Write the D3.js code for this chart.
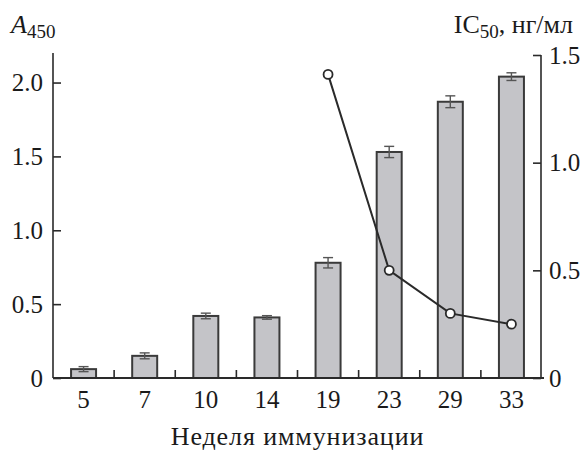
<!DOCTYPE html>
<html>
<head>
<meta charset="utf-8">
<script src="https://cdn.jsdelivr.net/npm/d3@7"></script>
<style>
  body { margin: 0; background: #fff; }
  svg text { font-family: "Liberation Serif", "Times New Roman", Times, serif; fill: #1a1a1a; }
  .axis path, .axis line { stroke: #2a2a2a; stroke-width: 1.6; }
</style>
</head>
<body>
<svg width="585" height="450"></svg>
<script>
// weeks of immunisation, A450 titre with error, IC50 (ng/ml)
var weeks = ["5", "7", "10", "14", "19", "23", "29", "33"];
var a450 = [0.06, 0.15, 0.42, 0.41, 0.78, 1.53, 1.87, 2.04];
var a450Err = [0.017, 0.02, 0.019, 0.012, 0.035, 0.038, 0.04, 0.026];
var icWeeks = ["19", "23", "29", "33"];
var ic50 = [1.41, 0.5, 0.3, 0.25];
var leftTicks = [0, 0.5, 1.0, 1.5, 2.0];
var rightTicks = [0, 0.5, 1.0, 1.5];

var svg = d3.select("svg"),
    margin = {top: 53, right: 43, bottom: 72, left: 53},
    width = 585 - margin.left - margin.right,
    height = 450 - margin.top - margin.bottom;

var g = svg.append("g")
    .attr("transform", "translate(" + margin.left + "," + margin.top + ")");

var x = d3.scaleBand().domain(weeks).range([0, width]).padding(0);
var y = d3.scaleLinear().domain([0, 2.2]).range([height, 0]);
var y2 = d3.scaleLinear().domain([0, 1.5]).range([height, 2]);

var fmt = function(d) { return d === 0 ? "0" : d3.format(".1f")(d); };
var barW = 25;

// bars
g.selectAll(".bar")
  .data(weeks)
  .enter().append("rect")
    .attr("class", "bar")
    .attr("x", function(d) { return x(d) + x.bandwidth() / 2 - barW / 2; })
    .attr("y", function(d, i) { return y(a450[i]); })
    .attr("width", barW)
    .attr("height", function(d, i) { return y(0) - y(a450[i]); })
    .style("fill", "#c4c4c8")
    .style("stroke", "#3a3a3a")
    .style("stroke-width", 2);

// error bars
var err = g.selectAll(".err")
  .data(weeks)
  .enter().append("g")
    .attr("class", "err")
    .attr("transform", function(d) { return "translate(" + (x(d) + x.bandwidth() / 2) + ",0)"; })
    .style("stroke", "#555")
    .style("stroke-width", 1.4);

err.append("line")
    .attr("y1", function(d, i) { return y(a450[i] + a450Err[i]); })
    .attr("y2", function(d, i) { return y(a450[i] - a450Err[i]); });
err.append("line")
    .attr("x1", -5).attr("x2", 5)
    .attr("y1", function(d, i) { return y(a450[i] + a450Err[i]); })
    .attr("y2", function(d, i) { return y(a450[i] + a450Err[i]); });
err.append("line")
    .attr("x1", -5).attr("x2", 5)
    .attr("y1", function(d, i) { return y(a450[i] - a450Err[i]); })
    .attr("y2", function(d, i) { return y(a450[i] - a450Err[i]); });

// x axis: ticks between categories pointing up
var xAxis = g.append("g")
    .attr("class", "axis axis--x")
    .attr("transform", "translate(0," + height + ")");
xAxis.append("line")
    .attr("x1", 0).attr("x2", width + 2)
    .style("stroke-width", 2);
xAxis.selectAll(".xt")
  .data(weeks.slice(1))
  .enter().append("line")
    .attr("x1", function(d) { return x(d); })
    .attr("x2", function(d) { return x(d); })
    .attr("y1", 0).attr("y2", -8);
xAxis.selectAll(".xl")
  .data(weeks)
  .enter().append("text")
    .attr("x", function(d) { return x(d) + x.bandwidth() / 2; })
    .attr("y", 30)
    .attr("text-anchor", "middle")
    .style("font-size", "25px")
    .text(function(d) { return d; });

// left axis
var yAxis = g.append("g")
    .attr("class", "axis axis--y")
    .call(d3.axisLeft(y).tickValues(leftTicks).tickSize(-8).tickPadding(10).tickFormat(fmt));
yAxis.attr("font-family", null);
yAxis.select(".domain").attr("d", "M0," + y(2.2) + "V" + height);
yAxis.selectAll("text").style("font-size", "25px");

// right axis
var y2Axis = g.append("g")
    .attr("class", "axis axis--y2")
    .attr("transform", "translate(" + (width - 1) + ",0)")
    .call(d3.axisRight(y2).tickValues(rightTicks).tickSize(-8).tickPadding(8).tickFormat(fmt));
y2Axis.attr("font-family", null);
y2Axis.select(".domain").attr("d", "M0," + y2(1.5) + "V" + height);
y2Axis.selectAll("text").style("font-size", "25px");

// IC50 line
var line = d3.line()
    .x(function(d) { return x(d) + x.bandwidth() / 2; })
    .y(function(d, i) { return y2(ic50[i]); });

g.append("path")
    .datum(icWeeks)
    .attr("d", line)
    .style("fill", "none")
    .style("stroke", "#2a2a2a")
    .style("stroke-width", 2);

g.selectAll(".pt")
  .data(icWeeks)
  .enter().append("circle")
    .attr("class", "pt")
    .attr("cx", function(d) { return x(d) + x.bandwidth() / 2; })
    .attr("cy", function(d, i) { return y2(ic50[i]); })
    .attr("r", 4.5)
    .style("fill", "#fff")
    .style("stroke", "#2a2a2a")
    .style("stroke-width", 1.8);

// axis titles
var ttl = svg.append("text")
    .attr("x", 11).attr("y", 33)
    .style("font-size", "26px");
ttl.append("tspan").style("font-style", "italic").text("A");
ttl.append("tspan").attr("dy", 5).style("font-size", "19px").text("450");

var ttr = svg.append("text")
    .attr("x", 573).attr("y", 33)
    .attr("text-anchor", "end")
    .style("font-size", "26px");
ttr.append("tspan").text("IC");
ttr.append("tspan").attr("dy", 5).style("font-size", "19px").text("50");
ttr.append("tspan").attr("dy", -5).text(", нг/мл");

svg.append("text")
    .attr("x", margin.left + width / 2)
    .attr("y", 445)
    .attr("text-anchor", "middle")
    .style("font-size", "26px")
    .style("letter-spacing", "0.9px")
    .text("Неделя иммунизации");
</script>
</body>
</html>
